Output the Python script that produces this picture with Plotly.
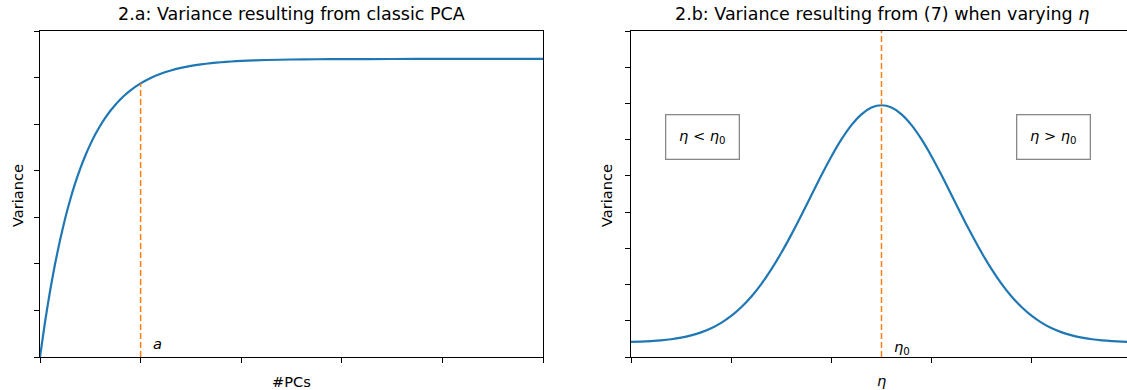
import plotly.graph_objects as go

# ---- data ----
pcs_x = [0, 0.05, 0.10, 0.15, 0.20, 0.25, 0.30, 0.35, 0.40, 0.45, 0.50, 0.55, 0.60, 0.65,
         0.70, 0.75, 0.80, 0.85, 0.90, 0.95, 1.00, 1.1, 1.2, 1.3, 1.4, 1.5, 1.6, 1.7, 1.8,
         1.9, 2.0, 2.25, 2.5, 2.75, 3.0, 3.5, 4.0, 4.5, 5.0]
pcs_var = [0, 0.752, 1.416, 2.001, 2.518, 2.974, 3.377, 3.732, 4.046, 4.322, 4.566, 4.782,
           4.972, 5.140, 5.288, 5.418, 5.534, 5.636, 5.725, 5.805, 5.875, 5.991, 6.081, 6.152,
           6.207, 6.250, 6.283, 6.309, 6.329, 6.345, 6.357, 6.377, 6.388, 6.393, 6.396, 6.399,
           6.40, 6.40, 6.40]
a_value = 1.0
a_var = 5.875

eta_x = [0.0, 0.1, 0.2, 0.3, 0.4, 0.5, 0.6, 0.7, 0.8, 0.9, 1.0, 1.1, 1.2, 1.3, 1.4, 1.5, 1.6,
         1.7, 1.8, 1.9, 2.0, 2.1, 2.2, 2.3, 2.4, 2.5, 2.6, 2.7, 2.8, 2.9, 3.0, 3.1, 3.2, 3.3,
         3.4, 3.5, 3.6, 3.7, 3.8, 3.9, 4.0, 4.1, 4.2, 4.3, 4.4, 4.5, 4.6, 4.7, 4.8, 4.9, 5.0]
eta_var = [0.415, 0.424, 0.438, 0.459, 0.490, 0.534, 0.596, 0.680, 0.794, 0.943, 1.134,
           1.373, 1.665, 2.014, 2.419, 2.876, 3.379, 3.914, 4.467, 5.015, 5.536, 6.006,
           6.401, 6.700, 6.887, 6.950,
           6.887, 6.700, 6.401, 6.006, 5.536, 5.015, 4.467, 3.914, 3.379, 2.876, 2.419,
           2.014, 1.665, 1.373, 1.134, 0.943, 0.794, 0.680, 0.596, 0.534, 0.490, 0.459,
           0.438, 0.424, 0.415]
eta0 = 2.5

left_yticks = [0, 1, 2, 3, 4, 5, 6, 7]
right_yticks = [0, 1, 2, 3, 4, 5, 6, 7, 8, 9]
xticks = [0, 1, 2, 3, 4, 5]

BLUE = "#1f77b4"
ORANGE = "#ff7f0e"
FONT = "DejaVu Sans"
W, H = 1127, 390
TITLE_SIZE = 17.5
LABEL_SIZE = 14.6

fig = go.Figure()

fig.add_trace(go.Scatter(x=pcs_x, y=pcs_var, mode="lines",
                         line=dict(color=BLUE, width=2.2, shape="spline", smoothing=0.6),
                         xaxis="x", yaxis="y", showlegend=False, hoverinfo="skip"))
fig.add_trace(go.Scatter(x=[a_value, a_value], y=[0, a_var], mode="lines",
                         line=dict(color=ORANGE, width=1.5, dash="6px,3px"),
                         xaxis="x", yaxis="y", showlegend=False, hoverinfo="skip"))

fig.add_trace(go.Scatter(x=eta_x, y=eta_var, mode="lines",
                         line=dict(color=BLUE, width=2.2, shape="spline", smoothing=0.6),
                         xaxis="x2", yaxis="y2", showlegend=False, hoverinfo="skip"))
fig.add_trace(go.Scatter(x=[eta0, eta0], y=[0, right_yticks[-1]], mode="lines",
                         line=dict(color=ORANGE, width=1.5, dash="6px,3px"),
                         xaxis="x2", yaxis="y2", showlegend=False, hoverinfo="skip"))

ydom = [1 - 357 / H, 1 - 31 / H]
axis_common = dict(showgrid=False, zeroline=False, showticklabels=False, ticks="outside",
                   ticklen=5, tickwidth=1, tickcolor="black", showline=True, linecolor="black",
                   linewidth=1)

fig.update_layout(
    width=W, height=H,
    margin=dict(l=0, r=0, t=0, b=0),
    paper_bgcolor="white", plot_bgcolor="white",
    font=dict(family=FONT, color="black"),
    xaxis=dict(domain=[40 / W, 543 / W], range=[0, 5], tickvals=xticks, mirror=True, anchor="y", **axis_common),
    yaxis=dict(domain=ydom, range=[0, 7], tickvals=left_yticks, mirror=True, anchor="x", **axis_common),
    xaxis2=dict(domain=[631 / W, 1.0], range=[0, 5 * (1127 - 631) / (1132 - 631)], tickvals=xticks,
                mirror=True, anchor="y2", **axis_common),
    yaxis2=dict(domain=ydom, range=[0, 9], tickvals=right_yticks, mirror=False, anchor="x2", **axis_common),
)

ann = []
# titles
ann.append(dict(text="2.a: Variance resulting from classic PCA", x=2.5, xref="x", y=1 - 14 / H, yref="paper",
                showarrow=False, font=dict(size=TITLE_SIZE), xanchor="center", yanchor="middle"))
ann.append(dict(text="2.b: Variance resulting from (7) when varying <i>η</i>", x=2.5, xref="x2", y=1 - 14 / H,
                yref="paper", showarrow=False, font=dict(size=TITLE_SIZE), xanchor="center", yanchor="middle"))
# axis labels
ann.append(dict(text="#PCs", x=2.5, xref="x", y=1 - 381 / H, yref="paper", showarrow=False,
                font=dict(size=LABEL_SIZE), xanchor="center", yanchor="middle"))
ann.append(dict(text="<i>η</i>", x=2.5, xref="x2", y=1 - 380 / H, yref="paper", showarrow=False,
                font=dict(size=LABEL_SIZE), xanchor="center", yanchor="middle"))
ann.append(dict(text="Variance", x=17 / W, xref="paper", y=1 - 196 / H, yref="paper", showarrow=False,
                font=dict(size=LABEL_SIZE), textangle=-90, xanchor="center", yanchor="middle"))
ann.append(dict(text="Variance", x=606 / W, xref="paper", y=1 - 196 / H, yref="paper", showarrow=False,
                font=dict(size=LABEL_SIZE), textangle=-90, xanchor="center", yanchor="middle"))
# in-plot labels
ann.append(dict(text="<i>a</i>", x=a_value + 0.1, xref="x", y=0.28, yref="y", showarrow=False,
                font=dict(size=LABEL_SIZE), xanchor="left", yanchor="middle"))
ann.append(dict(text="<i>η</i><sub>0</sub>", x=eta0 + 0.1, xref="x2", y=0.25, yref="y2", showarrow=False,
                font=dict(size=LABEL_SIZE), xanchor="left", yanchor="middle"))
# boxes
ann.append(dict(text="<i>η</i> < <i>η</i><sub>0</sub>", x=0.71, xref="x2", y=6.08, yref="y2", showarrow=False,
                font=dict(size=LABEL_SIZE), xanchor="center", yanchor="middle", bordercolor="#888888",
                borderwidth=1.3, borderpad=0, width=72, height=43, bgcolor="white"))
ann.append(dict(text="<i>η</i> > <i>η</i><sub>0</sub>", x=4.22, xref="x2", y=6.08, yref="y2", showarrow=False,
                font=dict(size=LABEL_SIZE), xanchor="center", yanchor="middle", bordercolor="#888888",
                borderwidth=1.3, borderpad=0, width=72, height=43, bgcolor="white"))

fig.update_layout(annotations=ann)

fig.write_html("out.html")
